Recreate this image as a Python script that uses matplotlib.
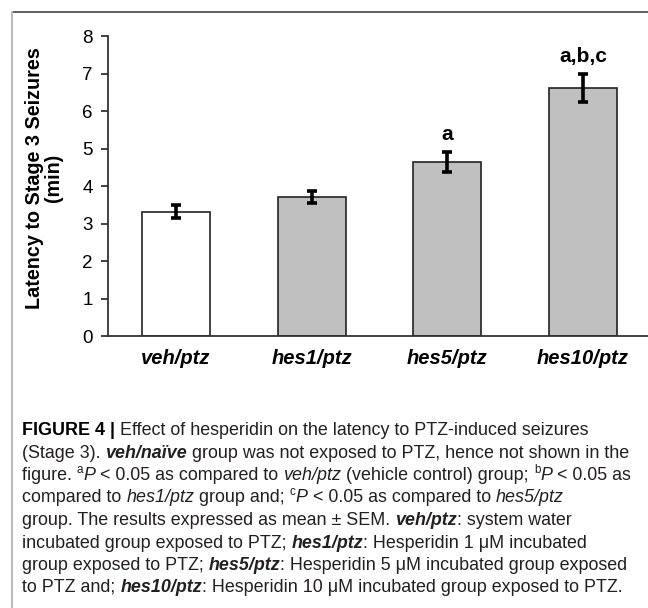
import matplotlib
matplotlib.use("Agg")
import matplotlib.pyplot as plt
from matplotlib.lines import Line2D

groups = ["veh/ptz", "hes1/ptz", "hes5/ptz", "hes10/ptz"]
latency = [3.32, 3.71, 4.65, 6.62]
sem = [0.18, 0.16, 0.27, 0.37]
letters = ["", "", "a", "a,b,c"]
bar_colors = ["white", "#c0c0c0", "#c0c0c0", "#c0c0c0"]

W, H = 648, 608
fig = plt.figure(figsize=(W / 100, H / 100), dpi=100)
sans = "Liberation Sans"
cap_size = 12.9

# frame around the figure (top and left edges only)
fig.add_artist(Line2D([12 / W, 1], [1 - 12 / H, 1 - 12 / H], transform=fig.transFigure, color="#444444", lw=1.2))
fig.add_artist(Line2D([12 / W, 12 / W], [0, 1 - 12 / H], transform=fig.transFigure, color="#bbbbbb", lw=1.5))

ax = fig.add_axes([108 / W, 1 - 336 / H, 543 / W, 300 / H])
x = range(len(groups))
ax.bar(x, latency, width=0.5, color=bar_colors, edgecolor="#222222", linewidth=1.2, zorder=2)
ax.errorbar(x, latency, yerr=sem, fmt="none", ecolor="black", elinewidth=2.6,
            capsize=3.8, capthick=2.6, zorder=3)
for i, lab in enumerate(letters):
    if lab:
        ax.text(i, latency[i] + sem[i] + 0.2, lab, ha="center", va="bottom",
                fontsize=15, fontweight="bold", family=sans)

ax.set_xlim(-0.5, 3.5)
ax.set_ylim(0, 8)
ax.set_yticks(range(0, 9))
ax.set_xticks(list(x))
ax.set_xticklabels(groups, fontsize=14.5, fontweight="bold", fontstyle="italic", family=sans)
for lab in ax.get_yticklabels():
    lab.set_family(sans)
    lab.set_fontsize(13.5)
ax.tick_params(axis="x", length=0, pad=9)
ax.tick_params(axis="y", length=5, width=1.3, color="#333333", pad=6)
for side in ["top", "right"]:
    ax.spines[side].set_visible(False)
for side in ["left", "bottom"]:
    ax.spines[side].set_linewidth(1.3)
    ax.spines[side].set_color("#333333")
fig.text(44 / W, 1 - 178 / H, "Latency to Stage 3 Seizures\n(min)", rotation=90,
         ha="center", va="center", fontsize=14.2, fontweight="bold", family=sans,
         linespacing=1.05)

# caption, drawn run by run so bold / italic / superscript can be mixed
R, B, I, BI, S = "r", "b", "i", "bi", "s"
caption = [
    [("FIGURE 4 | ", B), ("Effect of hesperidin on the latency to PTZ-induced seizures", R)],
    [("(Stage 3). ", R), ("veh/naïve", BI), (" group was not exposed to PTZ, hence not shown in the", R)],
    [("figure. ", R), ("a", S), ("P", I), (" < 0.05 as compared to ", R), ("veh/ptz", I),
     (" (vehicle control) group; ", R), ("b", S), ("P", I), (" < 0.05 as", R)],
    [("compared to ", R), ("hes1/ptz", I), (" group and; ", R), ("c", S), ("P", I),
     (" < 0.05 as compared to ", R), ("hes5/ptz", I)],
    [("group. The results expressed as mean ± SEM. ", R), ("veh/ptz", BI), (": system water", R)],
    [("incubated group exposed to PTZ; ", R), ("hes1/ptz", BI), (": Hesperidin 1 μM incubated", R)],
    [("group exposed to PTZ; ", R), ("hes5/ptz", BI), (": Hesperidin 5 μM incubated group exposed", R)],
    [("to PTZ and; ", R), ("hes10/ptz", BI), (": Hesperidin 10 μM incubated group exposed to PTZ.", R)],
]
line_y = [430, 453, 475, 497, 520, 543, 565, 587]

renderer = fig.canvas.get_renderer()
for runs, yy in zip(caption, line_y):
    xx = 22
    for txt, st in runs:
        kw = dict(family=sans, fontsize=cap_size, color="#231f20", va="baseline")
        dy = 0
        if st == B:
            kw.update(fontweight="bold", color="black")
        elif st == I:
            kw.update(fontstyle="italic")
        elif st == BI:
            kw.update(fontweight="bold", fontstyle="italic")
        elif st == S:
            kw.update(fontsize=cap_size * 0.65)
            dy = 7
        t = fig.text(xx / W, 1 - (yy + 5 - dy) / H, txt, **kw)
        xx += t.get_window_extent(renderer=renderer).width

fig.savefig("out.png", dpi=100)
